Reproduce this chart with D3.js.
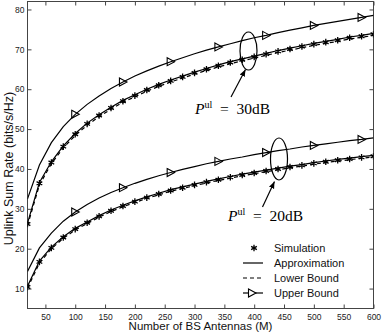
<!DOCTYPE html>
<html>
<head>
<meta charset="utf-8">
<script src="https://cdn.jsdelivr.net/npm/d3@7"></script>
<style>
  body { margin: 0; background: #fff; }
  svg { display: block; }
</style>
</head>
<body>
<svg id="chart"></svg>
<script>
// number of BS antennas
const antennas = d3.range(20, 601, 20);

// P_ul = 30dB
const approx30 = [26.4, 36.6, 41.8, 45.8, 48.9, 51.5, 53.6, 55.5, 57.2, 58.6, 60.0, 61.2, 62.3, 63.3, 64.3,
  65.2, 66.1, 66.9, 67.6, 68.3, 69.0, 69.7, 70.3, 70.9, 71.5, 72.0, 72.5, 73.1, 73.5, 74.0];
const sim30 = [26.2, 36.4, 41.6, 45.6, 48.7, 51.3, 53.4, 55.3, 57.0, 58.4, 59.8, 61.0, 62.1, 63.1, 64.1,
  65.0, 65.9, 66.7, 67.4, 68.1, 68.8, 69.5, 70.1, 70.7, 71.3, 71.8, 72.3, 72.9, 73.3, 73.8];
const lower30 = [25.8, 36.0, 41.3, 45.3, 48.4, 51.0, 53.1, 55.0, 56.7, 58.1, 59.5, 60.7, 61.8, 62.8, 63.8,
  64.7, 65.6, 66.4, 67.1, 67.8, 68.5, 69.2, 69.8, 70.4, 71.0, 71.5, 72.0, 72.6, 73.0, 73.5];
const upper30 = [32.5, 41.0, 46.6, 50.6, 53.7, 56.2, 58.3, 60.2, 61.8, 63.3, 64.6, 65.8, 66.9, 67.9, 68.9,
  69.8, 70.6, 71.4, 72.2, 72.9, 73.5, 74.2, 74.8, 75.4, 76.0, 76.5, 77.0, 77.5, 78.0, 78.5];

// P_ul = 20dB
const approx20 = [10.6, 16.9, 20.4, 23.0, 25.1, 26.7, 28.3, 29.7, 30.9, 32.0, 33.0, 33.9, 34.8, 35.5, 36.2,
  36.9, 37.5, 38.1, 38.7, 39.2, 39.7, 40.2, 40.7, 41.1, 41.6, 42.0, 42.4, 42.7, 43.1, 43.4];
const sim20 = [10.4, 16.7, 20.2, 22.8, 24.9, 26.5, 28.1, 29.5, 30.7, 31.8, 32.8, 33.7, 34.6, 35.3, 36.0,
  36.7, 37.3, 37.9, 38.5, 39.0, 39.5, 40.0, 40.5, 40.9, 41.4, 41.8, 42.2, 42.5, 42.9, 43.2];
const lower20 = [10.1, 16.4, 20.0, 22.6, 24.7, 26.3, 27.9, 29.3, 30.5, 31.6, 32.6, 33.5, 34.4, 35.1, 35.8,
  36.5, 37.1, 37.7, 38.3, 38.8, 39.3, 39.8, 40.3, 40.7, 41.2, 41.6, 42.0, 42.3, 42.7, 43.0];
const upper20 = [14.3, 20.2, 23.9, 26.9, 29.2, 31.1, 32.7, 34.1, 35.3, 36.4, 37.4, 38.3, 39.1, 39.9, 40.6,
  41.3, 41.9, 42.5, 43.0, 43.6, 44.1, 44.6, 45.0, 45.5, 45.9, 46.3, 46.7, 47.1, 47.4, 47.8];

const xTicks = d3.range(50, 601, 50);
const yTicks = d3.range(10, 81, 10);
const legendLabels = ["Simulation", "Approximation", "Lower Bound", "Upper Bound"];

const width = 382, height = 333;
const svg = d3.select("#chart").attr("width", width).attr("height", height);

const x = d3.scaleLinear().domain([20, 600]).range([27.5, 373.5]);
const y = d3.scaleLinear().domain([5, 82]).range([308.5, 1.5]);

svg.append("defs").append("clipPath").attr("id", "plot")
  .append("rect")
  .attr("x", x.range()[0]).attr("y", y.range()[1])
  .attr("width", x.range()[1] - x.range()[0])
  .attr("height", y.range()[0] - y.range()[1]);

svg.select("defs").append("marker")
  .attr("id", "head")
  .attr("viewBox", "0 -5 10 10")
  .attr("refX", 10).attr("refY", 0)
  .attr("markerWidth", 7).attr("markerHeight", 7)
  .attr("markerUnits", "userSpaceOnUse")
  .attr("orient", "auto")
  .append("path").attr("d", "M0,-4L10,0L0,4Z").attr("fill", "#000");

// axes, MATLAB style: box with ticks pointing inwards
const tickFont = g => g.selectAll("text")
  .style("font-family", "Liberation Sans, Arial, sans-serif")
  .style("font-size", "8.5px").attr("fill", "#222");

svg.append("g").attr("transform", `translate(0,${y.range()[0]})`)
  .call(d3.axisBottom(x).tickValues(xTicks).tickSizeInner(-4).tickSizeOuter(0).tickPadding(5))
  .call(tickFont);
svg.append("g").attr("transform", `translate(0,${y.range()[1]})`)
  .call(d3.axisTop(x).tickValues(xTicks).tickSizeInner(-4).tickSizeOuter(0).tickFormat(""));
svg.append("g").attr("transform", `translate(${x.range()[0]},0)`)
  .call(d3.axisLeft(y).tickValues(yTicks).tickSizeInner(-4).tickSizeOuter(0).tickPadding(3))
  .call(tickFont);
svg.append("g").attr("transform", `translate(${x.range()[1]},0)`)
  .call(d3.axisRight(y).tickValues(yTicks).tickSizeInner(-4).tickSizeOuter(0).tickFormat(""));

svg.selectAll(".domain").remove();
svg.selectAll(".tick line").attr("stroke", "#444");
svg.append("rect")
  .attr("x", x.range()[0]).attr("y", y.range()[1])
  .attr("width", x.range()[1] - x.range()[0])
  .attr("height", y.range()[0] - y.range()[1])
  .attr("fill", "none").attr("stroke", "#444").attr("stroke-width", 1);

const line = d3.line().x((d, i) => x(antennas[i])).y(d => y(d));
const plot = svg.append("g").attr("clip-path", "url(#plot)");

const drawLine = (values, dash) => plot.append("path")
  .attr("d", line(values))
  .attr("fill", "none").attr("stroke", "#000").attr("stroke-width", 1.2)
  .attr("stroke-dasharray", dash);

const star = d3.symbol().type(d3.symbolAsterisk).size(30);
const tri = "M-3.5,-4L4,0L-3.5,4Z";

const drawStars = values => plot.append("g").selectAll("path")
  .data(values).join("path")
  .attr("transform", (d, i) => `translate(${x(antennas[i])},${y(d)})`)
  .attr("d", star).attr("fill", "none").attr("stroke", "#000").attr("stroke-width", 1.3);

// upper-bound markers every 4th point, starting at M = 100
const drawTris = values => plot.append("g").selectAll("path")
  .data(values.map((v, i) => [antennas[i], v]).filter(([m]) => m >= 100 && (m - 20) % 80 === 0))
  .join("path")
  .attr("transform", ([m, v]) => `translate(${x(m)},${y(v)})`)
  .attr("d", tri).attr("fill", "none").attr("stroke", "#000").attr("stroke-width", 1.1);

[[approx30, sim30, lower30, upper30], [approx20, sim20, lower20, upper20]].forEach(([a, s, l, u]) => {
  drawLine(l, "4,3");
  drawLine(a, null);
  drawStars(s);
  drawLine(u, null);
  drawTris(u);
});

// annotations
const notes = [
  { cx: 248.5, cy: 51, rx: 8.5, ry: 19, from: [231, 97], to: [245.5, 69.5], tx: 195, ty: 114, label: "30dB" },
  { cx: 279, cy: 159, rx: 8.5, ry: 21, from: [262.5, 207], to: [274.5, 181.5], tx: 228, ty: 221, label: "20dB" }
];
notes.forEach(n => {
  svg.append("ellipse").attr("cx", n.cx).attr("cy", n.cy).attr("rx", n.rx).attr("ry", n.ry)
    .attr("fill", "none").attr("stroke", "#000").attr("stroke-width", 1.2);
  svg.append("line")
    .attr("x1", n.from[0]).attr("y1", n.from[1]).attr("x2", n.to[0]).attr("y2", n.to[1])
    .attr("stroke", "#000").attr("stroke-width", 1.2).attr("marker-end", "url(#head)");
  const t = svg.append("text").attr("x", n.tx).attr("y", n.ty)
    .style("font-family", "Liberation Serif, Times New Roman, serif").style("font-size", "15.5px");
  t.append("tspan").style("font-style", "italic").text("P");
  t.append("tspan").attr("dy", -6).style("font-size", "10px").text("ul");
  t.append("tspan").attr("dy", 6).text("\u2002=\u2002" + n.label);
});

// legend
const legend = svg.append("g").attr("transform", "translate(0,248)");
legendLabels.forEach((label, i) => {
  const g = legend.append("g").attr("transform", `translate(0,${i * 15})`);
  if (i > 0) {
    g.append("line").attr("x1", 243).attr("x2", 263).attr("y1", 0).attr("y2", 0)
      .attr("stroke", "#000").attr("stroke-width", 1.2)
      .attr("stroke-dasharray", i === 2 ? "4,3" : null);
  }
  if (i === 0) {
    g.append("path").attr("transform", "translate(254,0)").attr("d", star)
      .attr("fill", "none").attr("stroke", "#000").attr("stroke-width", 1.3);
  }
  if (i === 3) {
    g.append("path").attr("transform", "translate(252,0)").attr("d", tri)
      .attr("fill", "#fff").attr("stroke", "#000").attr("stroke-width", 1.1);
  }
  g.append("text").attr("x", 274).attr("dy", "0.35em")
    .style("font-family", "Liberation Sans, Arial, sans-serif").style("font-size", "11px")
    .attr("fill", "#111").text(label);
});

// axis titles
svg.append("text")
  .attr("x", (x.range()[0] + x.range()[1]) / 2).attr("y", 330)
  .attr("text-anchor", "middle")
  .style("font-family", "Liberation Sans, Arial, sans-serif").style("font-size", "11.5px")
  .attr("fill", "#111").text("Number of BS Antennas (M)");

svg.append("text")
  .attr("transform", "translate(12.5,168.5) rotate(-90)")
  .attr("text-anchor", "middle")
  .style("font-family", "Liberation Sans, Arial, sans-serif").style("font-size", "12.5px")
  .attr("fill", "#111").text("Uplink Sum Rate (bits/s/Hz)");
</script>
</body>
</html>
